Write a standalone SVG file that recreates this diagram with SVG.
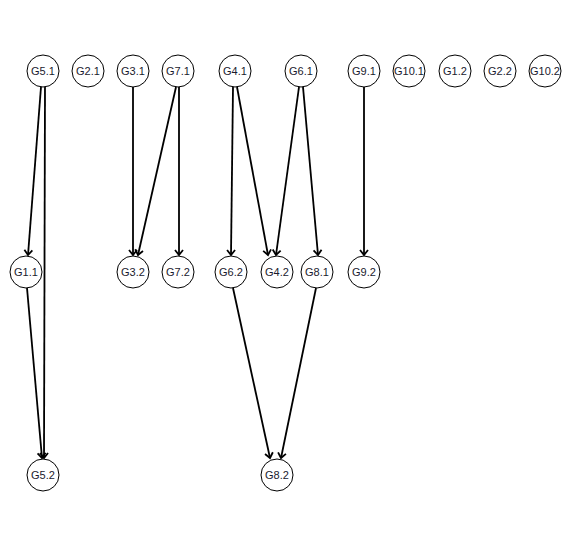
<svg xmlns="http://www.w3.org/2000/svg" width="572" height="544" viewBox="0 0 572 544">
  <style>
    .node circle { fill: #ffffff; stroke: #000000; stroke-width: 1; }
    .node text { font-family: "Liberation Sans", Arial, sans-serif; font-size: 11px; fill: #1a1a2e; text-anchor: middle; dominant-baseline: central; }
    .edge { stroke: #000000; stroke-width: 1.8; fill: none; marker-end: url(#arrow); }
  </style>
  <defs>
    <marker id="arrow" markerWidth="10" markerHeight="10" refX="6" refY="5" orient="auto" markerUnits="userSpaceOnUse">
      <path d="M1,1 L6,5 L1,9" fill="none" stroke="#000000" stroke-width="1.8"/>
    </marker>
  </defs>
  <rect width="572" height="544" fill="#ffffff"/>

  <g id="edges">
    <line class="edge" x1="41" y1="87" x2="28" y2="255"/>
    <line class="edge" x1="45" y1="87" x2="44" y2="458"/>
    <line class="edge" x1="27" y1="288" x2="42" y2="458"/>
    <line class="edge" x1="133" y1="87" x2="133" y2="255"/>
    <line class="edge" x1="176" y1="87" x2="138" y2="255"/>
    <line class="edge" x1="179" y1="87" x2="179" y2="255"/>
    <line class="edge" x1="233" y1="87" x2="231" y2="255"/>
    <line class="edge" x1="237" y1="87" x2="268" y2="255"/>
    <line class="edge" x1="299" y1="87" x2="276" y2="255"/>
    <line class="edge" x1="303" y1="87" x2="318" y2="255"/>
    <line class="edge" x1="364" y1="87" x2="364" y2="255"/>
    <line class="edge" x1="233" y1="288" x2="270" y2="458"/>
    <line class="edge" x1="316" y1="288" x2="281" y2="458"/>
  </g>

  <g id="G5.1" class="node"><circle cx="43" cy="71" r="16"/><text x="43" y="71">G5.1</text></g>
  <g id="G2.1" class="node"><circle cx="88" cy="71" r="16"/><text x="88" y="71">G2.1</text></g>
  <g id="G3.1" class="node"><circle cx="133" cy="71" r="16"/><text x="133" y="71">G3.1</text></g>
  <g id="G7.1" class="node"><circle cx="178" cy="71" r="16"/><text x="178" y="71">G7.1</text></g>
  <g id="G4.1" class="node"><circle cx="235" cy="71" r="16"/><text x="235" y="71">G4.1</text></g>
  <g id="G6.1" class="node"><circle cx="301" cy="71" r="16"/><text x="301" y="71">G6.1</text></g>
  <g id="G9.1" class="node"><circle cx="364" cy="71" r="16"/><text x="364" y="71">G9.1</text></g>
  <g id="G10.1" class="node"><circle cx="409" cy="71" r="16"/><text x="409" y="71">G10.1</text></g>
  <g id="G1.2" class="node"><circle cx="455" cy="71" r="16"/><text x="455" y="71">G1.2</text></g>
  <g id="G2.2" class="node"><circle cx="500" cy="71" r="16"/><text x="500" y="71">G2.2</text></g>
  <g id="G10.2" class="node"><circle cx="545" cy="71" r="16"/><text x="545" y="71">G10.2</text></g>

  <g id="G1.1" class="node"><circle cx="26" cy="272" r="16"/><text x="26" y="272">G1.1</text></g>
  <g id="G3.2" class="node"><circle cx="133" cy="272" r="16"/><text x="133" y="272">G3.2</text></g>
  <g id="G7.2" class="node"><circle cx="178" cy="272" r="16"/><text x="178" y="272">G7.2</text></g>
  <g id="G6.2" class="node"><circle cx="231" cy="272" r="16"/><text x="231" y="272">G6.2</text></g>
  <g id="G4.2" class="node"><circle cx="277" cy="272" r="16"/><text x="277" y="272">G4.2</text></g>
  <g id="G8.1" class="node"><circle cx="317" cy="272" r="16"/><text x="317" y="272">G8.1</text></g>
  <g id="G9.2" class="node"><circle cx="364" cy="272" r="16"/><text x="364" y="272">G9.2</text></g>

  <g id="G5.2" class="node"><circle cx="43" cy="475" r="16"/><text x="43" y="475">G5.2</text></g>
  <g id="G8.2" class="node"><circle cx="277" cy="475" r="16"/><text x="277" y="475">G8.2</text></g>
</svg>
